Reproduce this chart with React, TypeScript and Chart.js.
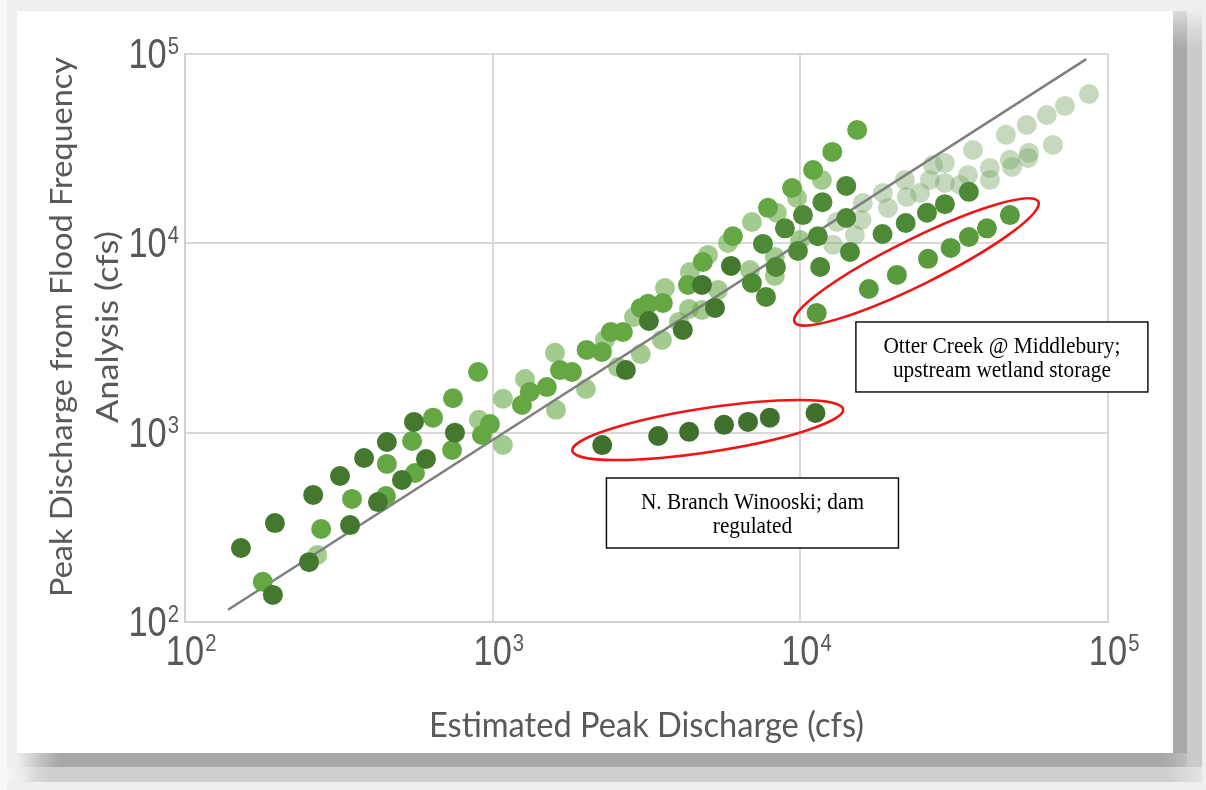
import React, { useEffect, useRef } from 'react';
import { Chart, registerables } from 'chart.js';

Chart.register(...registerables);

// ---------------- data (cfs) ----------------
const DARK_X = [152, 196, 193, 261, 253, 319, 344, 382, 453, 424, 555, 507, 607, 754, 2710, 3220, 4150, 5280, 4790, 5950];
const DARK_Y = [246, 333, 139, 469, 207, 590, 325, 735, 893, 430, 1140, 562, 726, 1000, 2140, 3890, 3490, 4560, 6030, 7600];

const WINOOSKI_X = [2270, 3450, 4350, 5650, 6760, 7960, 11200];
const WINOOSKI_Y = [860, 960, 1010, 1100, 1140, 1200, 1270];

const MID_X = [6960, 7730, 7560, 8330, 8910, 10200, 9820, 11800, 11400, 11600, 14100, 14100, 14500, 35300, 29500, 25800, 22000, 18500];
const MID_Y = [6180, 5210, 9930, 7500, 12000, 14100, 9120, 16500, 10900, 7500, 20100, 13600, 9010, 18700, 16100, 14500, 12800, 11200];

const OTTER_X = [11300, 16700, 20600, 26000, 30800, 35300, 40400, 48000];
const OTTER_Y = [4290, 5740, 6810, 8280, 9460, 10800, 12000, 14100];

const BRIGHT_X = [179, 277, 349, 453, 450, 547, 559, 640, 743, 738, 896, 923, 980, 1245, 1320, 1500, 1655, 1810, 2020, 2265, 2420, 2650, 3030, 3200, 3575, 4315, 4820, 6040, 7850, 9400, 11000, 12700, 15300];
const BRIGHT_Y = [163, 310, 447, 684, 463, 904, 612, 1200, 1520, 810, 2090, 972, 1110, 1400, 1640, 1740, 2140, 2090, 2735, 2670, 3400, 3400, 4560, 4790, 4840, 6030, 7980, 10900, 15400, 19600, 24400, 30400, 39700];

const LIGHT_X = [269, 902, 1080, 1080, 1274, 1594, 2317, 1606, 2010, 2555, 2880, 3030, 3550, 3630, 4030, 4345, 4790, 5400, 4375, 5010, 5820, 6960, 6860, 8260, 8260, 9750, 8390, 9970, 11750];
const LIGHT_Y = [226, 1170, 861, 1510, 1920, 2640, 3090, 1320, 1700, 2220, 4085, 2600, 3090, 5810, 3845, 4500, 4445, 5675, 7060, 8690, 10050, 12970, 7230, 8470, 6730, 17380, 14490, 10420, 21630];

const PALE_X = [13150, 15960, 15800, 12770, 15040, 18550, 19270, 21870, 24490, 26980, 29500, 29500, 35070, 36390, 41310, 47970, 55340, 66220, 46560, 54450, 63240, 72440, 86700, 22180, 41310, 48750, 26370, 33040, 54950];
const PALE_Y = [12970, 16340, 13300, 9820, 11070, 18460, 15380, 21630, 18460, 25940, 26600, 20850, 22960, 31120, 25000, 27610, 30060, 33110, 37410, 42170, 47640, 53210, 61520, 17580, 21630, 25330, 21630, 20320, 28250];

const ONE_TO_ONE_X = [138, 85000];
const ONE_TO_ONE_Y = [116, 94000];

const TICK_VALUES = [100, 1000, 10000, 100000];
const TICK_BASE = '10';
const TICK_EXPONENTS = ['2', '3', '4', '5'];

const X_TITLE = 'Estimated Peak Discharge (cfs)';
const Y_TITLE = ['Peak Discharge from Flood Frequency', 'Analysis (cfs)'];

const NOTE_OTTER = ['Otter Creek @ Middlebury;', 'upstream wetland storage'];
const NOTE_WINOOSKI = ['N. Branch Winooski; dam', 'regulated'];

// annotation anchors in data units
const ANNOTATIONS = [
  { lines: NOTE_OTTER, boxAt: { x: 45200, y: 2511 }, ringAt: { x: 23840, y: 7975 }, rx: 136, ry: 23, angle: -26.3 },
  { lines: NOTE_WINOOSKI, boxAt: { x: 6988, y: 376.5 }, ringAt: { x: 5000, y: 1033 }, rx: 137, ry: 22, angle: -8.7 },
];

const pts = (xs: number[], ys: number[]) => xs.map((x, i) => ({ x, y: ys[i] }));

function drawScaled(ctx: CanvasRenderingContext2D, text: string, x: number, y: number, sx: number, align: CanvasTextAlign) {
  ctx.save();
  ctx.translate(x, y);
  ctx.scale(sx, 1);
  ctx.textAlign = align;
  ctx.fillText(text, 0, 0);
  ctx.restore();
}

const textPlugin = {
  id: 'textAndNotes',
  afterDatasetsDraw(chart: any) {
    const { ctx, scales, chartArea } = chart;
    const xs = scales.x;
    const ys = scales.y;
    ctx.save();

    // ---- notes: rings
    ctx.strokeStyle = '#f01414';
    ctx.lineWidth = 2.6;
    ANNOTATIONS.forEach((a) => {
      const cx = xs.getPixelForValue(a.ringAt.x);
      const cy = ys.getPixelForValue(a.ringAt.y);
      ctx.beginPath();
      ctx.ellipse(cx, cy, a.rx, a.ry, (a.angle * Math.PI) / 180, 0, Math.PI * 2);
      ctx.stroke();
    });

    // ---- notes: boxes
    const serif = '23px "Liberation Serif", "Times New Roman", serif';
    ctx.font = serif;
    const noteSx = 237 / ctx.measureText(NOTE_OTTER[0]).width;
    ANNOTATIONS.forEach((a) => {
      const cx = xs.getPixelForValue(a.boxAt.x);
      const cy = ys.getPixelForValue(a.boxAt.y);
      const w = 292, h = 70;
      ctx.fillStyle = '#ffffff';
      ctx.fillRect(cx - w / 2, cy - h / 2, w, h);
      ctx.strokeStyle = '#111111';
      ctx.lineWidth = 1.5;
      ctx.strokeRect(cx - w / 2, cy - h / 2, w, h);
      ctx.fillStyle = '#000000';
      ctx.font = serif;
      ctx.textBaseline = 'alphabetic';
      drawScaled(ctx, a.lines[0], cx, cy - 4, noteSx, 'center');
      drawScaled(ctx, a.lines[1], cx, cy + 20, noteSx, 'center');
    });

    // ---- tick labels (10 with superscript exponent)
    const big = '43px "Liberation Sans", Arial, sans-serif';
    const small = '23px "Liberation Sans", Arial, sans-serif';
    const tsx = 0.8;
    const esx = 0.88;
    ctx.fillStyle = '#585858';
    ctx.textBaseline = 'alphabetic';
    TICK_VALUES.forEach((v, i) => {
      const px = xs.getPixelForValue(v);
      ctx.font = big;
      const wb = ctx.measureText(TICK_BASE).width * tsx;
      drawScaled(ctx, TICK_BASE, px, chartArea.bottom + 43, tsx, 'center');
      ctx.font = small;
      drawScaled(ctx, TICK_EXPONENTS[i], px + wb / 2 + 1, chartArea.bottom + 29, esx, 'left');
    });
    TICK_VALUES.forEach((v, i) => {
      const py = ys.getPixelForValue(v);
      const right = chartArea.left - 6;
      ctx.font = small;
      const we = ctx.measureText(TICK_EXPONENTS[i]).width * esx;
      drawScaled(ctx, TICK_EXPONENTS[i], right, py, esx, 'right');
      ctx.font = big;
      drawScaled(ctx, TICK_BASE, right - we - 1, py + 14, tsx, 'right');
    });

    // ---- axis titles
    ctx.fillStyle = '#595959';
    ctx.font = '35px Lato, "Open Sans", sans-serif';
    const xsx = 435 / ctx.measureText(X_TITLE).width;
    drawScaled(ctx, X_TITLE, (chartArea.left + chartArea.right) / 2, chartArea.bottom + 115, xsx, 'center');

    ctx.font = '31px Lato, "Open Sans", sans-serif';
    const ysx = 540 / ctx.measureText(Y_TITLE[0]).width;
    const yMid = (chartArea.top + chartArea.bottom) / 2 - 11;
    [72, 118].forEach((bx, i) => {
      ctx.save();
      ctx.translate(bx, yMid);
      ctx.rotate(-Math.PI / 2);
      ctx.scale(i === 0 ? ysx : ysx * 1.06, 1);
      ctx.textAlign = 'center';
      ctx.fillText(Y_TITLE[i], 0, 0);
      ctx.restore();
    });

    ctx.restore();
  },
};

function dotSet(label: string, xs: number[], ys: number[], color: string, order: number) {
  return {
    label,
    data: pts(xs, ys),
    backgroundColor: color,
    borderWidth: 0,
    pointRadius: 10,
    pointHoverRadius: 10,
    order,
  };
}

export default function App() {
  const ref = useRef<HTMLCanvasElement | null>(null);

  useEffect(() => {
    if (!ref.current) return;
    const axisCommon = {
      type: 'logarithmic' as const,
      min: 100,
      max: 100000,
      afterBuildTicks: (axis: any) => {
        axis.ticks = TICK_VALUES.map((v) => ({ value: v }));
      },
      ticks: { display: false },
      grid: { color: '#d9d9d9', lineWidth: 2, drawTicks: false },
      border: { color: '#d0d0d0', width: 2 },
      title: { display: false },
    };
    const chart = new Chart(ref.current, {
      type: 'scatter',
      data: {
        datasets: [
          dotSet('N. Branch Winooski', WINOOSKI_X, WINOOSKI_Y, '#3f712d', 0),
          dotSet('Dark', DARK_X, DARK_Y, '#44782f', 1),
          dotSet('Otter Creek', OTTER_X, OTTER_Y, '#599a3d', 2),
          dotSet('Mid', MID_X, MID_Y, '#4e8a36', 3),
          dotSet('Bright', BRIGHT_X, BRIGHT_Y, '#65a843', 4),
          {
            label: '1:1',
            data: pts(ONE_TO_ONE_X, ONE_TO_ONE_Y),
            showLine: true,
            borderColor: '#7f7f7f',
            borderWidth: 2.5,
            pointRadius: 0,
            pointHoverRadius: 0,
            fill: false,
            order: 5,
          } as any,
          dotSet('Light', LIGHT_X, LIGHT_Y, 'rgba(102,168,68,0.6)', 6),
          dotSet('Pale', PALE_X, PALE_Y, 'rgba(120,165,100,0.42)', 7),
        ],
      },
      options: {
        animation: false,
        responsive: false,
        devicePixelRatio: 1,
        layout: { padding: { left: 185, top: 54, right: 98, bottom: 168 } },
        plugins: { legend: { display: false }, tooltip: { enabled: false } },
        scales: { x: { ...axisCommon, position: 'bottom' }, y: { ...axisCommon, position: 'left' } },
      } as any,
      plugins: [textPlugin],
    });
    return () => chart.destroy();
  }, []);

  const abs = (l: number, t: number, w: number, h: number, bg: string) => (
    <div style={{ position: 'absolute', left: l, top: t, width: w, height: h, background: bg }} />
  );

  return (
    <div style={{ position: 'fixed', left: 0, top: 0, width: 1206, height: 790, background: '#efefef', overflow: 'hidden' }}>
      {abs(0, 0, 7, 790, '#f7f7f7')}
      {abs(1187, 11, 15, 771, 'linear-gradient(to bottom, #eeeeee 0px, #d8d8d8 20px, #cbcbcb 38px, #cbcbcb 100%)')}
      {abs(1173, 11, 14, 756, 'linear-gradient(to bottom, #dcdcdc 0px, #bdbdbd 20px, #a8a8a8 38px, #a8a8a8 100%)')}
      {abs(7, 767, 1195, 15, 'linear-gradient(to right, #f5f5f5 0px, #ececec 15px, #d8d8d8 30px, #cfcfcf 45px, #cfcfcf 97%, #e4e4e4 100%)')}
      {abs(17, 753, 1170, 14, 'linear-gradient(to right, #f0f0f0 0px, #d8d8d8 12px, #bcbcbc 28px, #a8a8a8 42px, #a8a8a8 98%, #bdbdbd 100%)')}
      {abs(17, 11, 1156, 742, '#ffffff')}
      <canvas ref={ref} width={1206} height={790} style={{ position: 'absolute', left: 0, top: 0, width: 1206, height: 790 }} />
    </div>
  );
}
